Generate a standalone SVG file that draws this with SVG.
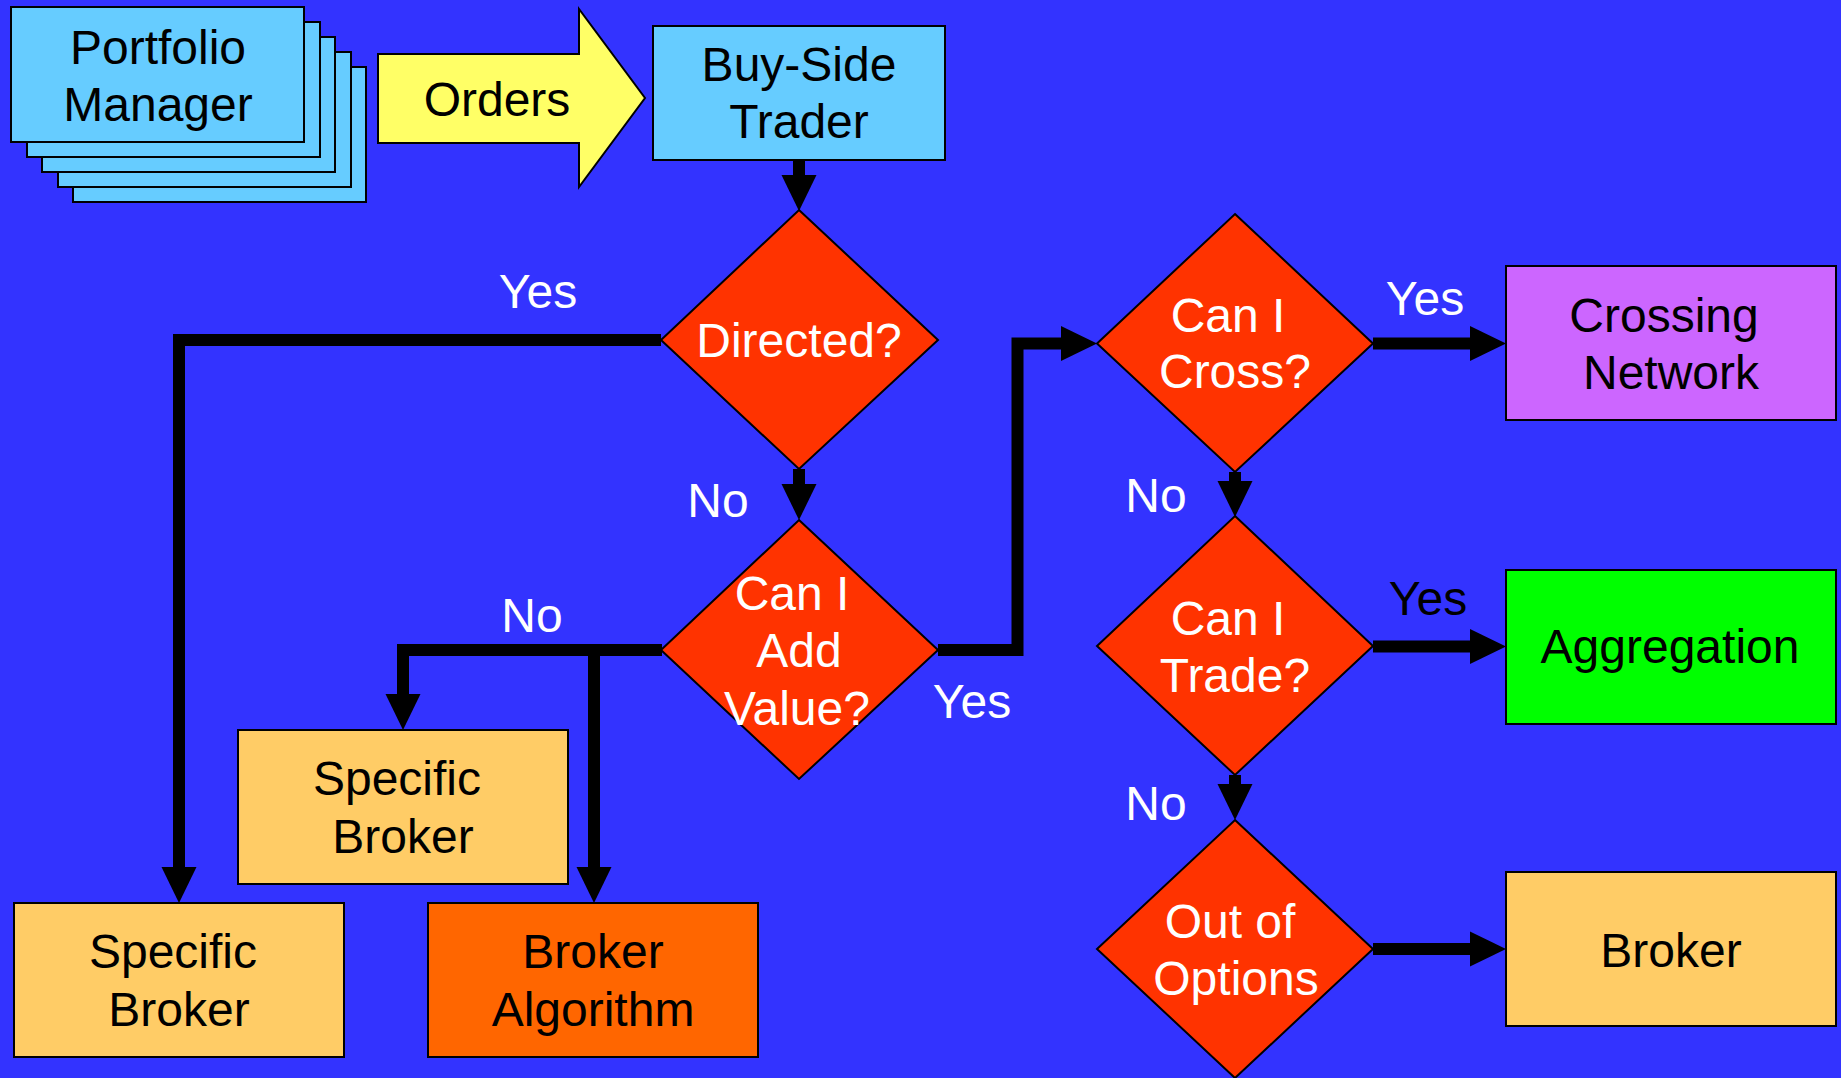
<svg xmlns="http://www.w3.org/2000/svg" width="1841" height="1078" viewBox="0 0 1841 1078">
<defs>
<marker id="ah" markerUnits="userSpaceOnUse" markerWidth="36" markerHeight="36" refX="0" refY="17.5" orient="auto" overflow="visible">
<path d="M0,0 L36,17.5 L0,35 z" fill="#000"/>
</marker>
<style>
.t{font-family:"Liberation Sans",Arial,sans-serif;font-size:48px;text-anchor:middle;fill:#000}
.w{fill:#fff}
.box{stroke:#000;stroke-width:2}
.dia{fill:#FF3300;stroke:#000;stroke-width:2}
.c{fill:none;stroke:#000;stroke-width:12;stroke-linejoin:miter;stroke-linecap:butt}
</style>
</defs>
<rect width="1841" height="1078" fill="#3333FF"/>

<g id="portfolio-manager">
<rect class="box" x="73" y="67" width="293" height="135" fill="#66CCFF"/>
<rect class="box" x="58" y="52" width="293" height="135" fill="#66CCFF"/>
<rect class="box" x="42" y="37" width="293" height="135" fill="#66CCFF"/>
<rect class="box" x="27" y="22" width="293" height="135" fill="#66CCFF"/>
<rect class="box" x="11" y="7" width="293" height="135" fill="#66CCFF"/>
<text class="t" x="158" y="64">Portfolio</text>
<text class="t" x="158" y="121">Manager</text>
</g>

<g id="orders">
<polygon class="box" points="378,54 579,54 579,9 645,98 579,187 579,143 378,143" fill="#FFFF66"/>
<text class="t" x="497" y="116">Orders</text>
</g>

<g id="buy-side-trader">
<rect class="box" x="653" y="26" width="292" height="134" fill="#66CCFF"/>
<text class="t" x="799" y="81">Buy-Side</text>
<text class="t" x="799" y="138">Trader</text>
</g>

<g id="directed">
<polygon class="dia" points="799,210 938,340 799,469 661,340"/>
<text class="t w" x="799" y="357">Directed?</text>
</g>

<g id="add-value">
<polygon class="dia" points="799,520 938,650 799,779 661,650"/>
<text class="t w" x="792" y="610">Can I</text>
<text class="t w" x="799" y="667">Add</text>
<text class="t w" x="797" y="725">Value?</text>
</g>

<g id="specific-broker-1">
<rect class="box" x="238" y="730" width="330" height="154" fill="#FFCC66"/>
<text class="t" x="397" y="795">Specific</text>
<text class="t" x="403" y="853">Broker</text>
</g>

<g id="specific-broker-2">
<rect class="box" x="14" y="903" width="330" height="154" fill="#FFCC66"/>
<text class="t" x="173" y="968">Specific</text>
<text class="t" x="179" y="1026">Broker</text>
</g>

<g id="broker-algorithm">
<rect class="box" x="428" y="903" width="330" height="154" fill="#FF6600"/>
<text class="t" x="593" y="968">Broker</text>
<text class="t" x="593" y="1026">Algorithm</text>
</g>

<g id="cross">
<polygon class="dia" points="1235,214 1373,343.5 1235,472 1097,343.5"/>
<text class="t w" x="1228" y="332">Can I</text>
<text class="t w" x="1235" y="388">Cross?</text>
</g>

<g id="trade">
<polygon class="dia" points="1235,516 1373,646 1235,775 1097,646"/>
<text class="t w" x="1228" y="635">Can I</text>
<text class="t w" x="1235" y="692">Trade?</text>
</g>

<g id="out-of-options">
<polygon class="dia" points="1235,820 1373,949 1235,1078 1097,949"/>
<text class="t w" x="1230" y="938">Out of</text>
<text class="t w" x="1236" y="995">Options</text>
</g>

<g id="crossing-network">
<rect class="box" x="1506" y="266" width="330" height="154" fill="#CC66FF"/>
<text class="t" x="1664" y="332">Crossing</text>
<text class="t" x="1671" y="389">Network</text>
</g>

<g id="aggregation">
<rect class="box" x="1506" y="570" width="330" height="154" fill="#00FF00"/>
<text class="t" x="1670" y="663">Aggregation</text>
</g>

<g id="broker">
<rect class="box" x="1506" y="872" width="330" height="154" fill="#FFCC66"/>
<text class="t" x="1671" y="967">Broker</text>
</g>

<g id="connectors">
<path class="c" d="M799,160 V175" marker-end="url(#ah)"/>
<path class="c" d="M799,469 V484" marker-end="url(#ah)"/>
<path class="c" d="M661,340 H179 V867" marker-end="url(#ah)"/>
<path class="c" d="M662,650 H403 V694" marker-end="url(#ah)"/>
<path class="c" d="M594,650 V867" marker-end="url(#ah)"/>
<path class="c" d="M938,650 H1017.5 V343.5 H1061" marker-end="url(#ah)"/>
<path class="c" d="M1373,343.5 H1470" marker-end="url(#ah)"/>
<path class="c" d="M1235,472 V481" marker-end="url(#ah)"/>
<path class="c" d="M1373,646.5 H1470" marker-end="url(#ah)"/>
<path class="c" d="M1235,775 V784" marker-end="url(#ah)"/>
<path class="c" d="M1373,949 H1470" marker-end="url(#ah)"/>
</g>

<g id="labels">
<text class="t w" x="538" y="308">Yes</text>
<text class="t w" x="718" y="517">No</text>
<text class="t w" x="532" y="632">No</text>
<text class="t w" x="972" y="718">Yes</text>
<text class="t w" x="1425" y="315">Yes</text>
<text class="t w" x="1156" y="512">No</text>
<text class="t" x="1428" y="615">Yes</text>
<text class="t w" x="1156" y="820">No</text>
</g>
</svg>
